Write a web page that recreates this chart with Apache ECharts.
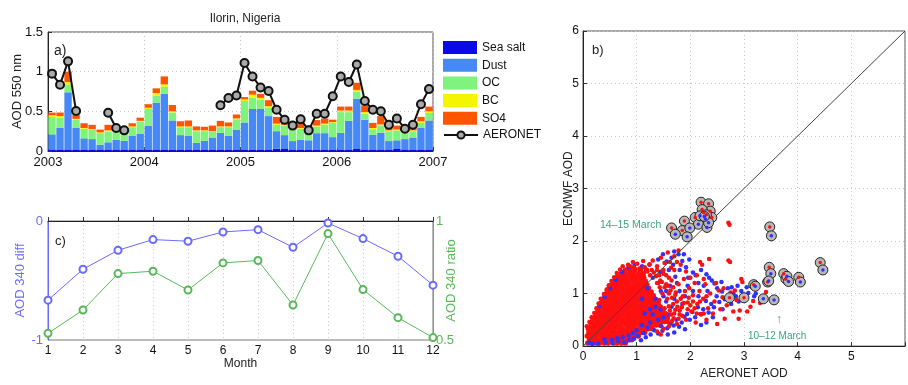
<!DOCTYPE html>
<html><head><meta charset="utf-8">
<script src="https://cdn.jsdelivr.net/npm/echarts@6/dist/echarts.min.js"></script>
<style>html,body{margin:0;padding:0;background:#fff}#c{width:908px;height:385px}</style>
</head><body><div id="c"></div>
<script>
// ---------- Panel a data (monthly, Jan 2003 - Dec 2006) ----------
const years = [2003, 2004, 2005, 2006];
const yearTicks = [2003, 2004, 2005, 2006, 2007];
const seaSalt = [.02,.02,.02,.02,.02,.02,.02,.02,.02,.02,.02,.02, .02,.02,.02,.02,.02,.02,.02,.02,.02,.02,.02,.02, .02,.02,.02,.02,.03,.025,.02,.02,.02,.02,.02,.02, .02,.02,.025,.02,.02,.02,.02,.025,.02,.02,.02,.02];
const dust = [.19,.275,.72,.275,.14,.13,.06,.09,.12,.11,.175,.20, .30,.59,.70,.365,.18,.175,.085,.11,.15,.21,.17,.25, .34,.51,.51,.42,.22,.175,.105,.12,.115,.205,.205,.155, .21,.36,.635,.375,.185,.21,.105,.11,.13,.15,.275,.365];
const oc = [.22,.125,.10,.10,.12,.115,.145,.135,.10,.08,.105,.15, .21,.09,.09,.10,.10,.105,.145,.12,.07,.07,.11,.13, .27,.14,.12,.11,.08,.12,.145,.14,.105,.085,.11,.18, .26,.11,.09,.075,.07,.085,.125,.125,.077,.08,.06,.095];
const bc = [.02,.02,.03,.01,.01,.01,.01,.015,.01,.01,.01,.01, .015,.03,.03,.015,.01,.01,.01,.01,.01,.01,.01,.01, .02,.04,.02,.015,.015,.01,.01,.01,.01,.01,.01,.01, .02,.02,.02,.02,.015,.02,.01,.01,.01,.01,.02,.02];
const so4 = [.034,.045,.13,.055,.06,.055,.035,.07,.045,.045,.04,.04, .045,.06,.10,.08,.065,.075,.05,.045,.07,.07,.05,.05, .03,.05,.05,.075,.085,.065,.065,.09,.07,.07,.065,.03, .05,.05,.09,.085,.065,.105,.06,.05,.065,.05,.055,.06];
const aeronet = [.975,.836,1.13,.504,null,null,null,.483,.29,.26,null,null, null,null,null,null,null,null,null,null,null,.576,.668,.70, 1.11,.94,.80,.756,.52,.395,.32,.40,.26,.47,.47,.69, .94,.87,1.09,.63,.52,.50,.33,.41,.28,.33,.59,.78];

// ---------- Panel c data ----------
const monthsC = [1,2,3,4,5,6,7,8,9,10,11,12];
const diff340 = [-0.665,-0.405,-0.246,-0.156,-0.170,-0.092,-0.073,-0.221,-0.017,-0.148,-0.296,-0.539];
const ratio340 = [0.528,0.626,0.779,0.789,0.710,0.824,0.834,0.647,0.947,0.712,0.594,0.510];

// ---------- Panel b data ----------
const oneToOne = [0, 6];
const redCoreRows = [
 "0.06: 0.09 0.16 0.25 0.31 0.40 0.47 0.57 0.63 0.72 0.79",
 "0.12: 0.12 0.21 0.27 0.36 0.45 0.51 0.60 0.69 0.75 0.84 0.91",
 "0.19: 0.08 0.17 0.24 0.33 0.39 0.48 0.56 0.63 0.72 0.80 0.87 0.95 1.03",
 "0.26: 0.11 0.20 0.28 0.35 0.44 0.52 0.59 0.68 0.76 0.83 0.92 0.99 1.08 1.15",
 "0.33: 0.10 0.18 0.25 0.34 0.42 0.49 0.58 0.66 0.73 0.82 0.90 0.97 1.06 1.13 1.21 1.29",
 "0.40: 0.15 0.23 0.31 0.39 0.48 0.55 0.63 0.71 0.80 0.87 0.95 1.04 1.11 1.19 1.27 1.36 1.43",
 "0.47: 0.17 0.26 0.33 0.42 0.50 0.57 0.66 0.74 0.81 0.90 0.97 1.06 1.13 1.22 1.30 1.37 1.46 1.52",
 "0.54: 0.21 0.29 0.38 0.45 0.53 0.62 0.69 0.78 0.85 0.94 1.01 1.09 1.18 1.25 1.34 1.41 1.49 1.57",
 "0.61: 0.24 0.33 0.41 0.49 0.57 0.66 0.73 0.82 0.89 0.97 1.06 1.13 1.22 1.29 1.38 1.45 1.53",
 "0.68: 0.28 0.36 0.44 0.53 0.60 0.69 0.77 0.84 0.93 1.01 1.09 1.17 1.25 1.33 1.41 1.49",
 "0.75: 0.31 0.40 0.47 0.56 0.64 0.72 0.81 0.88 0.96 1.05 1.12 1.20 1.29 1.36 1.44",
 "0.82: 0.34 0.42 0.51 0.59 0.67 0.75 0.83 0.92 0.99 1.08 1.16 1.24 1.31 1.40",
 "0.89: 0.37 0.46 0.54 0.62 0.71 0.78 0.87 0.95 1.03 1.11 1.19 1.28 1.35",
 "0.96: 0.41 0.49 0.58 0.65 0.74 0.82 0.90 0.98 1.07 1.14 1.23 1.31",
 "1.03: 0.45 0.53 0.61 0.70 0.77 0.86 0.94 1.02 1.10 1.18 1.27",
 "1.10: 0.49 0.57 0.66 0.73 0.82 0.89 0.98 1.06 1.14 1.22",
 "1.17: 0.54 0.62 0.70 0.79 0.86 0.95 1.03 1.11 1.19",
 "1.24: 0.59 0.67 0.75 0.83 0.92 0.99 1.08 1.16",
 "1.31: 0.64 0.73 0.80 0.89 0.97 1.05 1.13",
 "1.38: 0.71 0.79 0.88 0.95 1.04 1.12",
 "1.45: 0.79 0.88 0.97 1.07 1.18"
];
const redSparse = "0.07,0.38 0.12,0.46 0.16,0.55 0.21,0.63 0.25,0.72 0.29,0.81 0.33,0.9 0.39,0.99 0.44,1.08 0.48,1.16 0.53,1.24 0.58,1.31 0.63,1.39 0.69,1.46 0.74,1.52 0.84,1.55 0.93,1.6 1.01,1.57 1.12,1.62 1.24,1.56 1.3,1.63 1.38,1.52 1.45,1.68 1.52,1.58 1.58,1.78 1.64,1.49 1.7,1.71 1.78,1.82 1.28,1.45 1.36,1.33 1.44,1.25 1.5,1.38 1.55,1.18 1.6,1.3 1.63,1.06 1.66,0.92 1.6,0.76 1.64,0.6 1.58,0.46 1.69,0.53 1.72,0.69 1.75,0.85 1.73,1.02 1.78,1.18 1.8,0.6 1.84,0.74 1.86,0.95 1.88,1.28 1.92,0.5 1.95,0.83 1.98,1.1 2.02,0.66 2.05,0.97 2.08,1.2 2.1,0.45 2.13,0.8 2.17,1.05 2.2,0.6 2.24,0.9 2.28,1.18 2.3,0.5 2.33,0.72 2.37,1.0 2.42,0.62 2.45,0.85 2.5,0.42 2.53,1.06 2.56,0.7 2.6,0.93 2.64,0.52 2.68,0.78 2.75,1.02 2.8,0.66 2.86,0.88 2.92,0.68 2.95,1.28 2.97,1.22 2.83,1.06 3.06,0.66 3.12,0.75 3.17,0.86 3.41,1.03 3.3,0.82 2.18,1.6 2.22,1.55 2.35,1.66 2.71,2.35 2.73,2.31 2.71,1.63 2.74,1.6 2.0,1.3 1.92,1.42 2.12,1.35 2.25,1.28 1.5,0.33 1.45,0.22 1.38,0.28 1.6,0.38 2.48,1.2 2.62,1.1 2.9,0.52";
const redMid = "1.58,0.52 1.62,0.68 1.55,0.62 1.68,0.8 1.52,0.72 1.57,0.9 1.48,1.0 1.52,1.12 1.43,1.12 1.38,1.2 1.47,1.22 1.42,0.88 1.6,1.0 1.68,1.12 1.72,0.98 1.76,0.75 1.82,0.9 1.8,0.68 1.88,0.82 1.9,1.05 1.95,0.7 2.0,0.78 1.85,0.58 1.78,0.52 1.7,0.62 1.66,0.48 1.75,0.42 2.05,0.85 2.12,0.62 2.18,0.85 2.25,0.62 2.3,0.95 1.97,0.92 2.08,0.72 1.25,1.35 1.2,1.42 1.32,1.4 1.15,1.5 1.05,1.48 0.95,1.5 0.88,1.52 1.38,1.45 1.42,1.35 1.5,1.45 1.55,1.35 1.62,1.6 1.7,1.45 1.75,1.6 1.82,1.55 1.65,1.25 1.58,1.15";
const blueSparse = "0.28,0.05 0.42,0.07 0.55,0.06 0.66,0.09 0.77,0.07 0.86,0.11 0.95,0.14 1.02,0.19 1.08,0.11 1.17,0.17 1.13,0.25 1.26,0.22 1.33,0.3 1.4,0.24 1.48,0.29 1.46,0.38 1.57,0.34 1.63,0.43 1.69,0.39 1.74,0.5 1.79,0.37 1.84,0.45 1.89,0.56 1.94,0.61 1.99,0.5 2.04,0.65 2.09,0.55 2.14,0.74 2.19,0.61 2.24,0.7 2.29,0.86 2.34,0.64 2.39,0.8 2.44,0.74 2.49,0.95 2.54,0.84 2.59,1.04 2.64,0.89 2.7,1.1 2.76,0.8 2.8,1.0 2.85,0.95 2.88,1.15 2.95,1.05 3.0,0.98 3.08,1.01 3.19,0.95 2.58,1.22 2.45,1.19 2.35,1.3 2.25,1.15 2.15,1.2 2.05,1.05 1.95,1.15 1.9,0.95 1.85,0.8 1.8,1.05 1.75,1.2 1.7,0.9 1.65,0.75 1.6,0.6 1.55,0.85 1.55,1.05 1.5,0.55 1.45,0.7 1.4,0.5 1.35,0.9 1.3,0.6 1.25,0.45 1.2,0.35 1.1,0.4 1.0,0.3 0.93,0.25 0.85,0.2 0.74,0.17 0.64,0.15 0.54,0.12 0.4,0.13 0.3,0.76 0.4,0.94 0.5,1.1 0.61,1.26 0.73,1.41 0.85,1.5 0.96,1.55 1.1,1.52 1.24,1.55 1.4,1.65 1.49,1.75 1.56,1.61 1.65,1.68 1.7,1.8 1.78,1.75 1.85,1.62 1.92,1.5 1.8,1.45 1.68,1.55 1.96,1.3 2.05,1.4 2.1,1.35 2.2,1.45 2.3,1.37 2.4,1.25 2.5,1.1 1.6,1.45 1.44,1.41 1.3,1.3 1.4,1.2 1.45,1.05 1.35,0.75 1.25,0.7 1.15,0.62 1.2,1.1 1.1,0.9 1.5,0.95 1.62,1.15 1.72,1.32 1.88,1.75 1.98,1.65 2.15,0.95 2.32,1.05 2.6,0.7 2.77,1.12 2.9,0.85 3.05,1.12 3.22,1.0 2.42,0.55 2.3,0.45 2.2,0.4 1.9,0.32 1.7,0.26 1.58,0.22 0.18,0.04 0.12,0.06";
const circledRed = [[2.20,2.74],[2.34,2.71],[2.09,2.45],[2.37,2.57],[2.40,2.45],[1.89,2.38],[1.65,2.25],[1.85,2.20],[2.25,2.54],[2.22,2.60],[2.30,2.50],[3.48,2.27],[3.47,1.50],[3.74,1.38],[3.78,1.28],[4.02,1.31],[4.42,1.59],[3.18,1.17],[3.44,1.22],[2.73,0.92],[3.00,0.92]];
const circledBlue = [[2.28,2.42],[2.15,2.32],[2.31,2.26],[1.72,2.13],[1.99,2.25],[1.94,2.08],[2.18,2.48],[2.34,2.35],[2.26,2.47],[3.51,2.10],[3.50,1.38],[3.80,1.33],[3.83,1.23],[4.05,1.22],[4.47,1.45],[3.21,1.14],[3.46,1.24],[3.36,0.90],[3.56,0.88]];

// ---------- build ----------
const monthNames = ['Jan','Feb','Mar','Apr','May','Jun','Jul','Aug','Sep','Oct','Nov','Dec'];
const cats = [];
years.forEach(y => monthNames.forEach(m => cats.push(m + ' ' + y)));
const redCore = [];
redCoreRows.forEach(r => { const [yy, xs] = r.split(':'); xs.trim().split(/\s+/).forEach(x => redCore.push([+x, +yy])); });
const parsePairs = s => s.trim().split(/\s+/).map(p => p.split(',').map(Number));
const redPts = parsePairs(redSparse).concat(parsePairs(redMid));
const bluePts = parsePairs(blueSparse);

const FONT = 'Liberation Sans, Arial, Helvetica, sans-serif';
const RED = '#ff1010', BLUE = '#3030ff';
const CBLUE = '#6a6aff', CGREEN = '#58b858', TEAL = '#3aa57e';
const grid = { lineStyle: { color: '#c6c6c6', type: [1, 3], width: 1 } };
const tick = { inside: true, length: 4, lineStyle: { color: '#333' } };

const chart = echarts.init(document.getElementById('c'), null, { renderer: 'canvas' });
const barNames = ['Sea salt', 'Dust', 'OC', 'BC', 'SO4'];
const barColors = ['#0a0ae8', '#4688f5', '#80f27e', '#f5f500', '#ff5500'];
const barData = [seaSalt, dust, oc, bc, so4];

const series = barData.map((d, i) => ({
  name: barNames[i], type: 'bar', stack: 'aod', xAxisIndex: 0, yAxisIndex: 0,
  data: d, barCategoryGap: '8%', itemStyle: { color: barColors[i] }, silent: true
}));
series.push({
  name: 'AERONET', type: 'line', xAxisIndex: 0, yAxisIndex: 0, data: aeronet,
  connectNulls: false, symbol: 'circle', symbolSize: 8, showAllSymbol: true,
  lineStyle: { color: '#111', width: 2 },
  itemStyle: { color: '#aaa', borderColor: '#111', borderWidth: 2 }, z: 5
});
series.push({
  name: 'diff', type: 'line', xAxisIndex: 2, yAxisIndex: 1,
  data: monthsC.map((m, i) => [m, diff340[i]]), symbol: 'emptyCircle', symbolSize: 7,
  lineStyle: { color: CBLUE, width: 1 }, itemStyle: { color: CBLUE, borderWidth: 1 }
});
series.push({
  name: 'ratio', type: 'line', xAxisIndex: 2, yAxisIndex: 2,
  data: monthsC.map((m, i) => [m, ratio340[i]]), symbol: 'emptyCircle', symbolSize: 7,
  lineStyle: { color: CGREEN, width: 1 }, itemStyle: { color: CGREEN, borderWidth: 1 }
});
series.push({ name: 'redCore', type: 'scatter', xAxisIndex: 3, yAxisIndex: 3, data: redCore, symbolSize: 5.5, itemStyle: { color: RED, opacity: 1 }, silent: true, z: 2 });
series.push({ name: 'blue', type: 'scatter', xAxisIndex: 3, yAxisIndex: 3, data: bluePts, symbolSize: 4.5, itemStyle: { color: BLUE, opacity: 1 }, silent: true, z: 2 });
series.push({ name: 'redSparse', type: 'scatter', xAxisIndex: 3, yAxisIndex: 3, data: redPts, symbolSize: 4.5, itemStyle: { color: RED, opacity: 1 }, silent: true, z: 2 });
series.push({ name: '1:1', type: 'line', xAxisIndex: 3, yAxisIndex: 3, data: oneToOne.map(v => [v, v]), symbol: 'none', lineStyle: { color: '#444', width: 1 }, z: 3, silent: true });
series.push({ name: 'circles', type: 'scatter', xAxisIndex: 3, yAxisIndex: 3, data: circledRed.concat(circledBlue), symbolSize: 10, itemStyle: { color: '#b8b8b8', borderColor: '#222', borderWidth: 1, opacity: 1 }, silent: true, z: 4 });
series.push({ name: 'cRed', type: 'scatter', xAxisIndex: 3, yAxisIndex: 3, data: circledRed, symbolSize: 3.5, itemStyle: { color: RED, opacity: 1 }, silent: true, z: 5 });
series.push({ name: 'cBlue', type: 'scatter', xAxisIndex: 3, yAxisIndex: 3, data: circledBlue, symbolSize: 3.5, itemStyle: { color: BLUE, opacity: 1 }, silent: true, z: 5 });

const option = {
  animation: false,
  textStyle: { fontFamily: FONT },
  title: { text: 'Ilorin, Nigeria', left: 240, top: 8, textAlign: 'center',
    textStyle: { fontSize: 12, fontWeight: 'normal', color: '#222', fontFamily: FONT } },
  legend: [{
    data: barNames.map(n => ({ name: n, icon: 'rect' })),
    orient: 'vertical', left: 443, top: 41, padding: 0, itemWidth: 34, itemHeight: 13, itemGap: 4.7,
    textStyle: { fontSize: 12, color: '#111', fontFamily: FONT }, selectedMode: false
  }, {
    data: ['AERONET'],
    orient: 'vertical', left: 443, top: 129, padding: 0, itemWidth: 34, itemHeight: 9,
    textStyle: { fontSize: 12, color: '#111', fontFamily: FONT }, selectedMode: false
  }],
  grid: [
    { left: 48, top: 32, width: 385, height: 119, show: true, borderColor: '#555', borderWidth: 1 },
    { left: 48, top: 221, width: 385, height: 119, show: true, borderColor: '#777', borderWidth: 1 },
    { left: 583, top: 31, width: 324, height: 325, show: true, borderColor: '#555', borderWidth: 1 }
  ],
  xAxis: [
    { type: 'category', gridIndex: 0, position: 'bottom', data: cats, show: false, boundaryGap: true },
    { type: 'value', gridIndex: 0, position: 'bottom', min: yearTicks[0], max: yearTicks[yearTicks.length - 1], interval: 1,
      axisLine: { lineStyle: { color: '#222' } }, axisTick: tick,
      axisLabel: { formatter: v => String(v), fontSize: 13, color: '#111', margin: 5 },
      splitLine: { show: true, ...grid } },
    { type: 'value', gridIndex: 1, min: 1, max: 12, interval: 1, name: 'Month', nameLocation: 'middle', nameGap: 17,
      nameTextStyle: { fontSize: 12, color: '#222' },
      axisLine: { lineStyle: { color: '#222' } }, axisTick: tick,
      axisLabel: { fontSize: 12, color: '#111', margin: 5 },
      splitLine: { show: true, ...grid } },
    { type: 'value', gridIndex: 2, min: 0, max: 6, interval: 1, name: 'AERONET AOD', nameLocation: 'middle', nameGap: 17,
      nameTextStyle: { fontSize: 12, color: '#222' },
      axisLine: { lineStyle: { color: '#222' } }, axisTick: tick,
      axisLabel: { fontSize: 12, color: '#111', margin: 5, formatter: v => v === 6 ? '' : String(v) },
      splitLine: { show: true, ...grid } }
  ],
  yAxis: [
    { type: 'value', gridIndex: 0, min: 0, max: 1.5, interval: 0.5, name: 'AOD 550 nm', nameLocation: 'middle', nameGap: 24,
      nameMoveOverlap: false,
      nameTextStyle: { fontSize: 13, color: '#222' },
      axisLine: { show: true, lineStyle: { color: '#222' } }, axisTick: tick,
      axisLabel: { fontSize: 13, color: '#111', margin: 5 },
      splitLine: { show: true, ...grid } },
    { type: 'value', gridIndex: 1, min: -1, max: 0, interval: 1, name: 'AOD 340 diff', nameLocation: 'middle', nameGap: 21,
      nameMoveOverlap: false,
      nameTextStyle: { fontSize: 13, color: CBLUE },
      axisLine: { show: true, lineStyle: { color: CBLUE } }, axisTick: { show: false },
      axisLabel: { fontSize: 13, color: CBLUE, margin: 5 }, splitLine: { show: false } },
    { type: 'value', gridIndex: 1, position: 'right', min: 0.5, max: 1, interval: 0.5, name: 'AOD 340 ratio', nameLocation: 'middle', nameGap: 12,
      nameRotate: 90, nameMoveOverlap: false,
      nameTextStyle: { fontSize: 13, color: CGREEN },
      axisLine: { show: true, lineStyle: { color: CGREEN } }, axisTick: { show: false },
      axisLabel: { fontSize: 13, color: CGREEN, margin: 3 }, splitLine: { show: false } },
    { type: 'value', gridIndex: 2, min: 0, max: 6, interval: 1, name: 'ECMWF AOD', nameLocation: 'middle', nameGap: 8,
      nameMoveOverlap: false,
      nameTextStyle: { fontSize: 12, color: '#222' },
      axisLine: { show: true, lineStyle: { color: '#222' } }, axisTick: tick,
      axisLabel: { fontSize: 12, color: '#111', margin: 4 },
      splitLine: { show: true, ...grid } }
  ],
  graphic: [
    { type: 'text', left: 54, top: 44, style: { text: 'a)', font: '14px ' + FONT, fill: '#222' } },
    { type: 'text', left: 592, top: 44, style: { text: 'b)', font: '13px ' + FONT, fill: '#222' } },
    { type: 'text', left: 55, top: 235, style: { text: 'c)', font: '13px ' + FONT, fill: '#222' } },
    { type: 'text', left: 600, top: 220, style: { text: '14\u201315 March  \u2192', font: '10.5px ' + FONT, fill: TEAL } },
    { type: 'text', left: 776, top: 314, style: { text: '\u2191', font: '12px ' + FONT, fill: TEAL } },
    { type: 'text', left: 748, top: 331, style: { text: '10\u201312 March', font: '10px ' + FONT, fill: TEAL } }
  ],
  series
};
chart.setOption(option);
</script></body></html>
